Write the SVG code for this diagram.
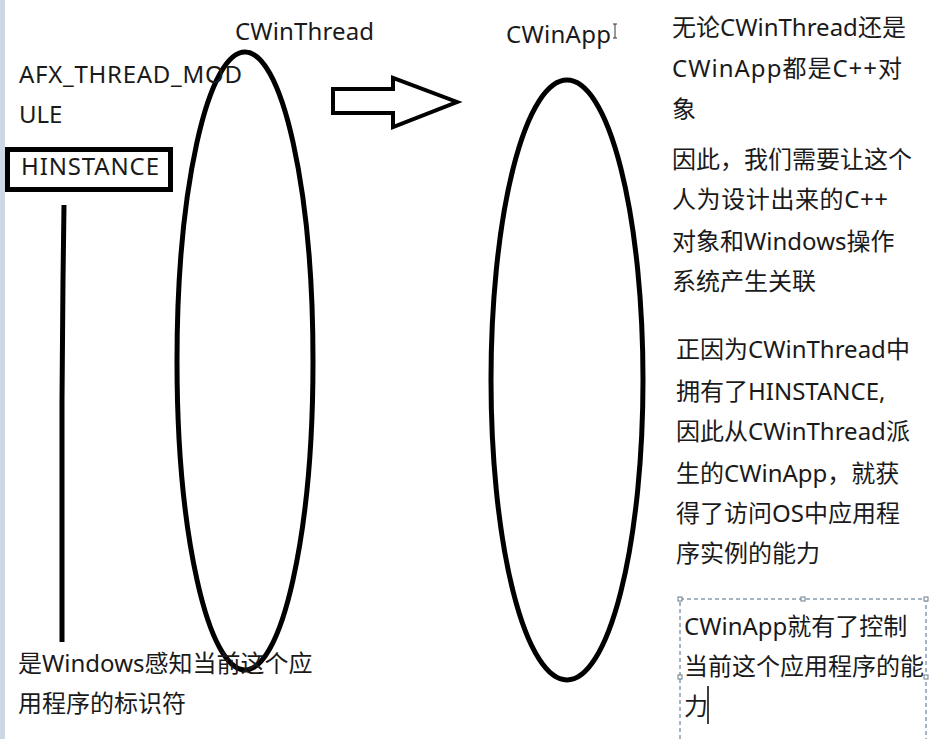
<svg xmlns="http://www.w3.org/2000/svg" width="945" height="739" viewBox="0 0 945 739">
<style>
text{font-family:"Noto Sans","Noto Sans CJK SC",sans-serif;font-size:24px;fill:#1a1a1a}
.ell{fill:none;stroke:#000;stroke-width:5}
.handle{fill:#fff;stroke:#6a7a8a;stroke-width:1}
</style>
<rect x="0" y="0" width="945" height="739" fill="#fff"/>
<rect x="0" y="0" width="5" height="739" fill="#cdd7e6"/>

<g id="cwinthread">
<text x="235" y="40" textLength="139">CWinThread</text>
<ellipse class="ell" cx="245" cy="361" rx="68" ry="309"/>
</g>

<g id="afx-thread-module">
<text x="19" y="83" textLength="223">AFX_THREAD_MOD</text>
<text x="19" y="123">ULE</text>
</g>

<g id="hinstance">
<rect x="7.5" y="149.5" width="163" height="40" fill="none" stroke="#000" stroke-width="5"/>
<text x="21" y="175" textLength="138">HINSTANCE</text>
</g>

<g id="cwinapp">
<text x="506" y="43" textLength="105">CWinApp</text>
<ellipse class="ell" cx="567" cy="380" rx="76" ry="300"/>
</g>
<g id="cursor" stroke="#333" stroke-width="1" fill="none">
<path d="M613,24 h4 M615,24 v14 M613,38 h4"/>
</g>

<g id="connectors">
<polygon points="333,89 393,89 393,78 457,102 393,127 393,113 333,113" fill="#fff" stroke="#000" stroke-width="4" stroke-linejoin="miter"/>
<path d="M64,205 L63,280 L62,400 L62,520 L62,642" fill="none" stroke="#000" stroke-width="5"/>
</g>

<g id="hinstance-note">
<text x="18" y="672">是Windows感知当前这个应</text>
<text x="18" y="712">用程序的标识符</text>
</g>

<g id="note-objects">
<text x="672" y="36">无论CWinThread还是</text>
<text x="672" y="77" textLength="230">CWinApp都是C++对</text>
<text x="672" y="118">象</text>
</g>

<g id="note-associate">
<text x="672" y="168">因此，我们需要让这个</text>
<text x="672" y="208" textLength="216">人为设计出来的C++</text>
<text x="672" y="250">对象和Windows操作</text>
<text x="672" y="290">系统产生关联</text>
</g>

<g id="note-derived">
<text x="676" y="358">正因为CWinThread中</text>
<text x="676" y="400">拥有了HINSTANCE,</text>
<text x="676" y="440">因此从CWinThread派</text>
<text x="676" y="482">生的CWinApp，就获</text>
<text x="676" y="522">得了访问OS中应用程</text>
<text x="676" y="562">序实例的能力</text>
</g>

<g id="note-control">
<path d="M680,739 V599 H926 V739" fill="none" stroke="#4d6b88" stroke-width="1" stroke-dasharray="4,3"/>
<rect class="handle" x="678" y="597" width="4" height="4"/>
<rect class="handle" x="801" y="597" width="4" height="4"/>
<rect class="handle" x="924" y="597" width="4" height="4"/>
<rect class="handle" x="678" y="675" width="4" height="4"/>
<rect class="handle" x="924" y="675" width="4" height="4"/>
<text x="684" y="635">CWinApp就有了控制</text>
<text x="684" y="675">当前这个应用程序的能</text>
<text x="684" y="715">力</text>
<line x1="708" y1="686" x2="708" y2="724" stroke="#000" stroke-width="1.5"/>
</g>
</svg>
